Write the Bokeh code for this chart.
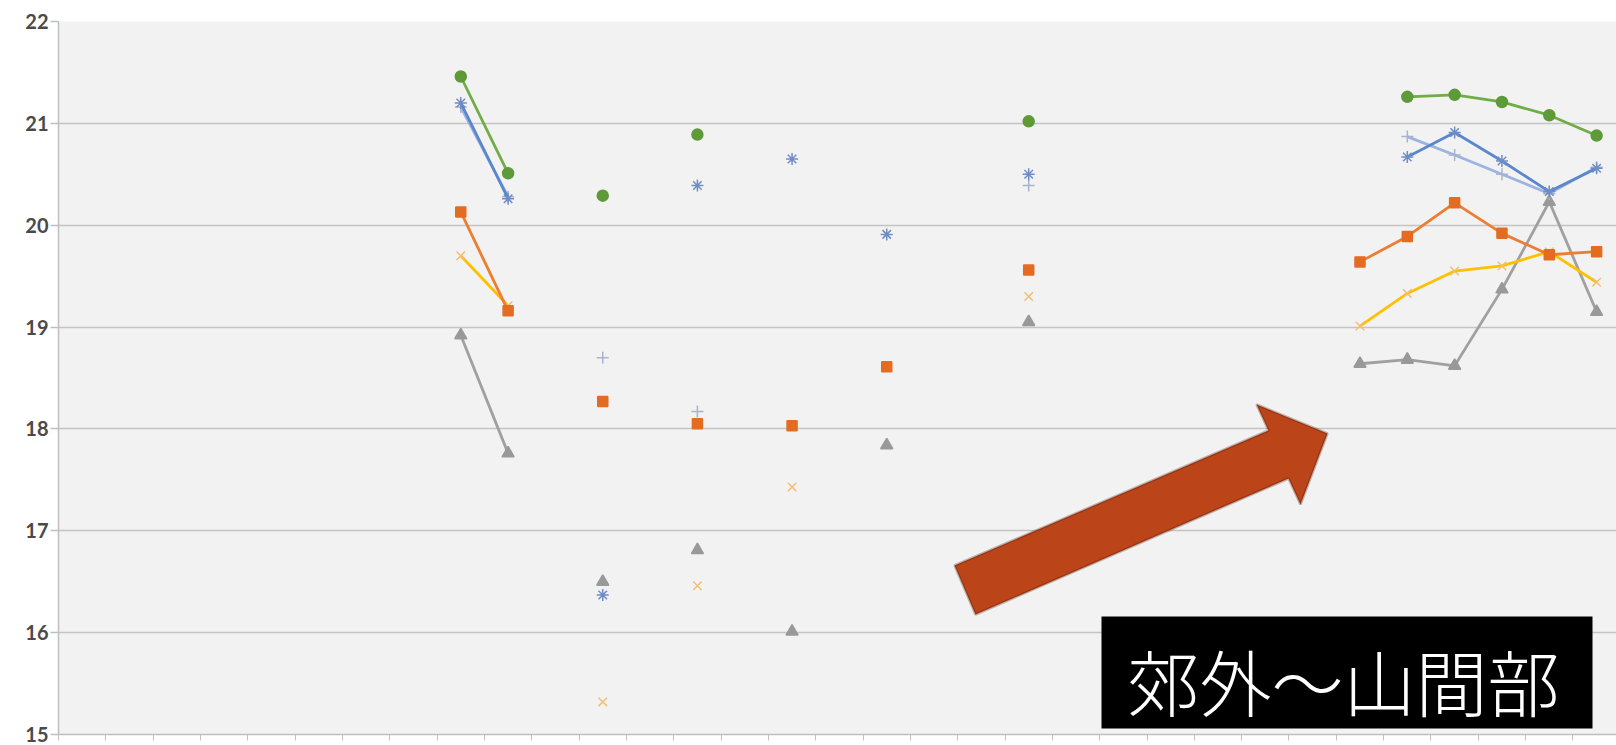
from bokeh.plotting import figure
from bokeh.models import Range1d, FixedTicker, BoxAnnotation, Label, PolyAnnotation
from bokeh.embed import file_html
from bokeh.resources import INLINE

N = 33
categories = list(range(N))
_ = None

# values per category (None = no data)
green = [_, _, _, _, _, _, _, _, 21.46, 20.51, _, 20.29, _, 20.89, _, _, _, _, _, _,
         21.02, _, _, _, _, _, _, _, 21.26, 21.28, 21.21, 21.08, 20.88]
orange = [_, _, _, _, _, _, _, _, 20.13, 19.16, _, 18.27, _, 18.05, _, 18.03, _, 18.61, _, _,
          19.56, _, _, _, _, _, _, 19.64, 19.89, 20.22, 19.92, 19.71, 19.74]
gray = [_, _, _, _, _, _, _, _, 18.92, 17.76, _, 16.50, _, 16.81, _, 16.01, _, 17.84, _, _,
        19.05, _, _, _, _, _, _, 18.64, 18.68, 18.62, 19.37, 20.23, 19.15]
yellow = [_, _, _, _, _, _, _, _, 19.70, 19.21, _, 15.32, _, 16.46, _, 17.43, _, _, _, _,
          19.30, _, _, _, _, _, _, 19.01, 19.33, 19.55, 19.60, 19.74, 19.44]
blue_star = [_, _, _, _, _, _, _, _, 21.20, 20.26, _, 16.37, _, 20.39, _, 20.65, _, 19.91, _, _,
             20.50, _, _, _, _, _, _, _, 20.67, 20.91, 20.63, 20.33, 20.56]
blue_plus = [_, _, _, _, _, _, _, _, 21.16, 20.28, _, 18.70, _, 18.17, _, _, _, _, _, _,
             20.39, _, _, _, _, _, _, _, 20.87, 20.69, 20.50, 20.31, 20.57]

y_ticks = [15, 16, 17, 18, 19, 20, 21, 22]
label_text = "郊外〜山間部"

# layout (pixels)
W, H = 1616, 745
LEFT, TOP, BOTTOM = 58, 21, 11
X_START, X_END = -0.5, 32.42
Y_START, Y_END = 15, 22
FRAME_W = W - LEFT
FRAME_H = H - TOP - BOTTOM


def px_x(px):
    return X_START + (px - LEFT) * (X_END - X_START) / FRAME_W


def px_y(py):
    return Y_END - (py - TOP) * (Y_END - Y_START) / FRAME_H


def clean(v):
    return [float("nan") if a is None else a for a in v]


p = figure(width=W, height=H, output_backend="svg", toolbar_location=None,
           x_range=Range1d(X_START, X_END), y_range=Range1d(Y_START, Y_END),
           min_border_left=LEFT, min_border_right=0, min_border_top=TOP,
           min_border_bottom=BOTTOM)
p.background_fill_color = "#F2F2F2"
p.border_fill_color = "white"
p.outline_line_color = None

p.xgrid.grid_line_color = None
p.ygrid.grid_line_color = "#C4C4C4"
p.ygrid.grid_line_width = 1.5
p.ygrid.ticker = FixedTicker(ticks=y_ticks)

p.yaxis.ticker = FixedTicker(ticks=y_ticks)
p.yaxis.axis_line_color = "#BFBFBF"
p.yaxis.axis_line_width = 1.5
p.yaxis.major_tick_line_color = "#BFBFBF"
p.yaxis.major_tick_line_width = 1.5
p.yaxis.major_tick_out = 8
p.yaxis.major_tick_in = 0
p.yaxis.minor_tick_line_color = None
p.yaxis.major_label_standoff = 2
p.yaxis.major_label_text_font = "Lato"
p.yaxis.major_label_text_font_size = "20px"
p.yaxis.major_label_text_color = "#4A4A4A"
p.yaxis.major_label_text_font_style = "bold"

p.xaxis.ticker = FixedTicker(ticks=[c - 0.5 for c in categories] + [N - 0.5])
p.xaxis.axis_line_color = "#BFBFBF"
p.xaxis.axis_line_width = 1.5
p.xaxis.major_tick_line_color = "#BFBFBF"
p.xaxis.major_tick_out = 6
p.xaxis.major_tick_in = 0
p.xaxis.minor_tick_line_color = None
p.xaxis.major_label_text_font_size = "1px"
p.xaxis.major_label_text_alpha = 0
p.xaxis.major_label_standoff = 0

specs = [
    (gray, "#A0A0A0", "#999999", "triangle", 12),
    (yellow, "#FFC000", "#F3BE6E", "x", 12),
    (orange, "#ED7D31", "#E46C22", "square", 10),
    (blue_plus, "#9DB3E2", "#A8B4CC", "cross", 12),
    (blue_star, "#5B87CC", "#6F8DC4", "asterisk", 12),
    (green, "#70AD47", "#5E9A38", "circle", 11),
]
for vals, lc, mc, marker, size in specs:
    ys = clean(vals)
    p.line(categories, ys, line_color=lc, line_width=2.8)
    p.scatter(categories, ys, marker=marker, size=size, fill_color=mc,
              line_color=mc, line_width=1.5)

# arrow annotation (pixel outline converted to data coordinates)
arrow_px = [(954, 565), (1268, 430), (1256, 404), (1327, 433),
            (1300, 504), (1288, 478), (975, 614)]
p.add_layout(PolyAnnotation(xs=[px_x(a) for a, b in arrow_px],
                            ys=[px_y(b) for a, b in arrow_px],
                            fill_color="#BB4419", fill_alpha=1,
                            line_color="#4A1608", line_width=2.5))

p.add_layout(BoxAnnotation(left=px_x(1101), right=px_x(1592),
                           top=px_y(616), bottom=px_y(728),
                           fill_color="black", fill_alpha=1, line_color=None))
p.add_layout(Label(x=px_x(1343), y=px_y(679), text=label_text,
                   text_font="'Noto Sans CJK JP Light', 'Noto Sans CJK JP DemiLight', 'Noto Sans CJK JP'",
                   text_font_size="72px",
                   text_color="white", text_align="center",
                   text_baseline="middle"))

open("out.html", "w").write(file_html(p, INLINE))
